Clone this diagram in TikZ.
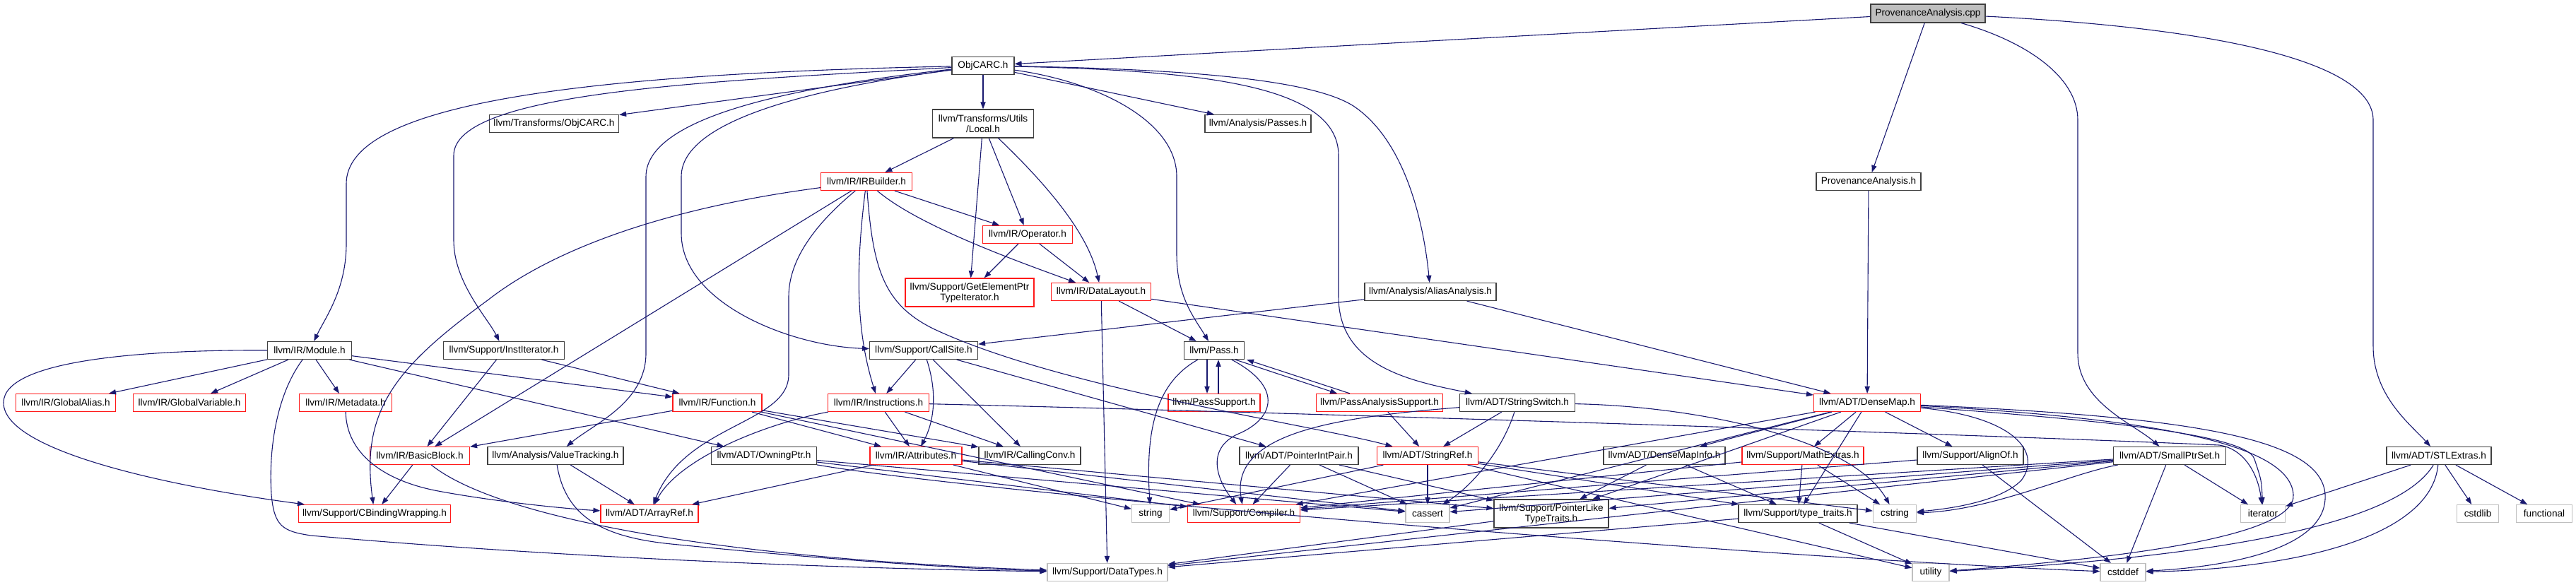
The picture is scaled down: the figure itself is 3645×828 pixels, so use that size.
\documentclass[tikz,border=0pt]{standalone}
\usepackage{fontspec}
\setmainfont{Liberation Sans}
\usetikzlibrary{arrows.meta}
\definecolor{edgec}{HTML}{191970}
\tikzset{
  nb/.style={draw=black!75, line width=0.6pt, fill=white, minimum height=12.5pt, inner sep=0pt, font=\fontsize{6.8}{7.5}\selectfont, align=center},
  nr/.style={nb, draw=red!90},
  ng/.style={nb, draw=black!25},
  nroot/.style={nb, fill=black!25, minimum height=13pt},
  wd/.style={minimum width=#1*0.5pt},
  tall/.style={minimum height=20pt},
  e/.style={draw=edgec, line width=0.55pt, -{Triangle[length=5pt,width=3.6pt]}},
}
\begin{document}
\begin{tikzpicture}[x=0.5pt,y=-0.5pt]
\useasboundingbox (0,0) rectangle (3645,828);
% row 0
\node[nroot,wd=162] (root) at (2728,19) {ProvenanceAnalysis.cpp};
% row 1
\node[nb,wd=88] (objcarc) at (1391,93) {ObjCARC.h};
% row 2
\node[nb,wd=183] (tobjcarc) at (784,175) {llvm/Transforms/ObjCARC.h};
\node[nb,wd=143,tall] (local) at (1391,175) {llvm/Transforms/Utils\\/Local.h};
\node[nb,wd=150] (passes) at (1780,175) {llvm/Analysis/Passes.h};
% row 3
\node[nr,wd=129] (irbuilder) at (1226,257) {llvm/IR/IRBuilder.h};
\node[nb,wd=148] (provh) at (2644,257) {ProvenanceAnalysis.h};
% row 4
\node[nr,wd=127] (operator) at (1454,332) {llvm/IR/Operator.h};
% row 5
\node[nr,wd=182,tall] (gep) at (1372,414) {llvm/Support/GetElementPtr\\TypeIterator.h};
\node[nr,wd=141] (datalayout) at (1558,413) {llvm/IR/DataLayout.h};
\node[nb,wd=186] (alias) at (2024,413) {llvm/Analysis/AliasAnalysis.h};
% row 6
\node[nb,wd=119] (module) at (438,496) {llvm/IR/Module.h};
\node[nb,wd=171] (institer) at (713,496) {llvm/Support/InstIterator.h};
\node[nb,wd=153] (callsite) at (1307,496) {llvm/Support/CallSite.h};
\node[nb,wd=85] (pass) at (1718,496) {llvm/Pass.h};
% row 7
\node[nr,wd=141] (galias) at (93,570) {llvm/IR/GlobalAlias.h};
\node[nr,wd=159] (gvar) at (268,570) {llvm/IR/GlobalVariable.h};
\node[nr,wd=131] (metadata) at (489,570) {llvm/IR/Metadata.h};
\node[nr,wd=126] (function) at (1015,570) {llvm/IR/Function.h};
\node[nr,wd=143] (instr) at (1243,570) {llvm/IR/Instructions.h};
\node[nr,wd=130] (passsupport) at (1718,570) {llvm/PassSupport.h};
\node[nr,wd=179] (passanalysis) at (1952,570) {llvm/PassAnalysisSupport.h};
\node[nb,wd=163] (stringswitch) at (2147,570) {llvm/ADT/StringSwitch.h};
\node[nr,wd=151] (densemap) at (2642,570) {llvm/ADT/DenseMap.h};
% row 8
\node[nr,wd=141] (basicblock) at (594,645) {llvm/IR/BasicBlock.h};
\node[nb,wd=192] (valuetracking) at (786,645) {llvm/Analysis/ValueTracking.h};
\node[nb,wd=149] (owningptr) at (1081,645) {llvm/ADT/OwningPtr.h};
\node[nr,wd=130] (attributes) at (1296,645) {llvm/IR/Attributes.h};
\node[nb,wd=144] (callingconv) at (1457,645) {llvm/IR/CallingConv.h};
\node[nb,wd=168] (pip) at (1838,645) {llvm/ADT/PointerIntPair.h};
\node[nr,wd=143] (stringref) at (2020,645) {llvm/ADT/StringRef.h};
\node[nb,wd=172] (dmi) at (2355,645) {llvm/ADT/DenseMapInfo.h};
\node[nr,wd=172] (mathextras) at (2551,645) {llvm/Support/MathExtras.h};
\node[nb,wd=150] (alignof) at (2788,645) {llvm/Support/AlignOf.h};
\node[nb,wd=159] (smallptrset) at (3070,645) {llvm/ADT/SmallPtrSet.h};
\node[nb,wd=148] (stlextras) at (3451,645) {llvm/ADT/STLExtras.h};
% row 9
\node[nr,wd=215] (cbind) at (530,727) {llvm/Support/CBindingWrapping.h};
\node[nr,wd=138] (arrayref) at (919,727) {llvm/ADT/ArrayRef.h};
\node[ng,wd=53] (string) at (1628,727) {string};
\node[nr,wd=159] (compiler) at (1760,727) {llvm/Support/Compiler.h};
\node[ng,wd=62] (cassert) at (2020,727) {cassert};
\node[nb,wd=162,tall] (pltt) at (2195,727) {llvm/Support/PointerLike\\TypeTraits.h};
\node[nb,wd=168] (typetraits) at (2544,727) {llvm/Support/type\_traits.h};
\node[ng,wd=61] (cstring) at (2681,727) {cstring};
\node[ng,wd=63] (iterator) at (3202,727) {iterator};
\node[ng,wd=59] (cstdlib) at (3506,727) {cstdlib};
\node[ng,wd=79] (functional) at (3600,727) {functional};
% row 10
\node[ng,wd=170] (datatypes) at (1567,810) {llvm/Support/DataTypes.h};
\node[ng,wd=52] (utility) at (2732,810) {utility};
\node[ng,wd=64] (cstddef) at (3004,810) {cstddef};

% ---- edges ----
\draw[e] (root) -- (objcarc);
\draw[e] (root) -- (provh);
\draw[e] (root) .. controls (2870,60) and (2940,110) .. (2940,170) -- (2940,500) .. controls (2940,570) and (3020,600) .. (smallptrset);
\draw[e] (root) .. controls (3150,40) and (3358,90) .. (3358,170) -- (3358,490) .. controls (3358,560) and (3410,600) .. (stlextras);
% ObjCARC.h
\draw[e] (objcarc) -- (tobjcarc);
\draw[e] (objcarc) -- (local);
\draw[e] (objcarc) -- (passes);
\draw[e] (objcarc) .. controls (800,105) and (490,150) .. (490,260) -- (490,345) .. controls (490,410) and (460,450) .. (module);
\draw[e] (objcarc) .. controls (1000,115) and (642,130) .. (642,220) -- (642,340) .. controls (642,400) and (690,450) .. (institer);
\draw[e] (objcarc) .. controls (1150,120) and (914,160) .. (914,250) -- (914,500) .. controls (914,570) and (840,600) .. (valuetracking);
\draw[e] (objcarc) .. controls (1150,125) and (964,170) .. (964,250) -- (964,330) .. controls (964,430) and (1120,490) .. (callsite);
\draw[e] (objcarc) .. controls (1550,115) and (1665,170) .. (1665,250) -- (1665,360) .. controls (1665,420) and (1690,450) .. (pass);
\draw[e] (objcarc) .. controls (1700,100) and (1894,120) .. (1894,220) -- (1894,420) .. controls (1894,520) and (2000,540) .. (stringswitch);
\draw[e] (objcarc) .. controls (1700,98) and (1860,115) .. (1915,150) .. controls (1990,200) and (2015,320) .. (alias);
% Local.h
\draw[e] (local) -- (irbuilder);
\draw[e] (local) -- (gep);
\draw[e] (local) -- (operator);
\draw[e] (local) .. controls (1480,260) and (1540,330) .. (datalayout);
% IRBuilder.h
\draw[e] (irbuilder) -- (operator);
\draw[e] (irbuilder) .. controls (1300,320) and (1440,370) .. (datalayout);
\draw[e] (irbuilder) -- (basicblock);
\draw[e] (irbuilder) .. controls (900,300) and (760,370) .. (690,425) .. controls (560,520) and (510,580) .. (cbind);
\draw[e] (irbuilder) .. controls (1150,320) and (1116,370) .. (1116,420) -- (1116,530) .. controls (1116,600) and (970,600) .. (arrayref);
\draw[e] (irbuilder) .. controls (1208,400) and (1215,480) .. (instr);
\draw[e] (irbuilder) .. controls (1235,380) and (1250,430) .. (1320,465) .. controls (1500,550) and (1850,600) .. (stringref);
% Operator.h
\draw[e] (operator) -- (gep);
\draw[e] (operator) -- (datalayout);
% DataLayout.h
\draw[e] (datalayout) -- (pass);
\draw[e] (datalayout) -- (datatypes);
\draw[e] (datalayout) -- (densemap);
% ProvenanceAnalysis.h, AliasAnalysis.h
\draw[e] (provh) -- (densemap);
\draw[e] (alias) -- (callsite);
\draw[e] (alias) -- (densemap);
% Module.h
\draw[e] (module) -- (galias);
\draw[e] (module) -- (gvar);
\draw[e] (module) -- (metadata);
\draw[e] (module) .. controls (200,495) and (5,510) .. (5,570) .. controls (5,640) and (250,690) .. (cbind);
\draw[e] (module) .. controls (390,560) and (380,640) .. (384,700) .. controls (388,745) and (400,752) .. (440,758) .. controls (800,790) and (1200,805) .. (datatypes);
\draw[e] (module) -- (function);
\draw[e] (module) -- (owningptr);
% InstIterator.h
\draw[e] (institer) -- (basicblock);
\draw[e] (institer) -- (function);
% CallSite.h
\draw[e] (callsite) -- (instr);
\draw[e] (callsite) .. controls (1328,560) and (1320,600) .. (attributes);
\draw[e] (callsite) -- (callingconv);
\draw[e] (callsite) -- (pip);
% Pass.h family
\draw[e] ([xshift=-5pt]pass.south) -- ([xshift=-5pt]passsupport.north);
\draw[e] ([xshift=3pt]passsupport.north) -- ([xshift=3pt]pass.south);
\draw[e] (pass) .. controls (1640,540) and (1620,600) .. (string);
\draw[e] (pass) .. controls (1820,550) and (1800,595) .. (1750,615) .. controls (1700,640) and (1730,690) .. (compiler);
\draw[e] ([xshift=15pt]pass.south) -- ([xshift=-30pt]passanalysis.north);
\draw[e] ([xshift=-21pt]passanalysis.north) -- ([xshift=23pt]pass.south);
\draw[e] (passanalysis) -- (stringref);
% StringSwitch.h
\draw[e] (stringswitch) -- (stringref);
\draw[e] (stringswitch) .. controls (2125,640) and (2080,690) .. (cassert);
\draw[e] (stringswitch) .. controls (2400,575) and (2620,620) .. (cstring);
\draw[e] (stringswitch) .. controls (1900,590) and (1740,610) .. (compiler);
% Instructions.h
\draw[e] (instr) -- (attributes);
\draw[e] (instr) -- (callingconv);
\draw[e] (instr) .. controls (1080,600) and (960,650) .. (arrayref);
\draw[e] (instr) .. controls (1800,583) and (2800,615) .. (3140,630) .. controls (3175,635) and (3195,670) .. (iterator);
% Function.h
\draw[e] (function) -- (basicblock);
\draw[e] (function) -- (attributes);
\draw[e] (function) -- (callingconv);
\draw[e] (function) -- (compiler);
% others
\draw[e] (metadata) .. controls (490,640) and (540,680) .. (620,695) .. controls (700,710) and (800,720) .. (arrayref);
\draw[e] (valuetracking) -- (arrayref);
\draw[e] (valuetracking) .. controls (800,730) and (850,760) .. (950,770) .. controls (1150,790) and (1350,805) .. (datatypes);
\draw[e] (basicblock) -- (cbind);
\draw[e] (basicblock) .. controls (700,730) and (1000,790) .. (datatypes);
\draw[e] (owningptr) -- (compiler);
\draw[e] (owningptr) -- (cassert);
\draw[e] (owningptr) .. controls (1400,700) and (2500,790) .. (cstddef);
\draw[e] (attributes) -- (arrayref);
\draw[e] (attributes) -- (string);
\draw[e] (attributes) -- (cassert);
\draw[e] (attributes) -- (pltt);
\draw[e] (pip) -- (compiler);
\draw[e] (pip) -- (cassert);
\draw[e] (pip) -- (pltt);
\draw[e] (stringref) -- (cassert);
\draw[e] (stringref) -- (string);
\draw[e] (stringref) -- (typetraits);
\draw[e] (stringref) -- (cstring);
\draw[e] (stringref) -- (utility);
% DenseMap.h
\draw[e] (densemap) -- (dmi);
\draw[e] (densemap) -- (mathextras);
\draw[e] (densemap) -- (alignof);
\draw[e] (densemap) -- (pltt);
\draw[e] (densemap) -- (typetraits);
\draw[e] (densemap) -- (compiler);
\draw[e] (densemap) -- (cassert);
\draw[e] (densemap) .. controls (2850,590) and (2890,640) .. (2860,680) .. controls (2830,710) and (2760,720) .. (cstring);
\draw[e] (densemap) .. controls (2900,590) and (3180,610) .. (3190,650) .. controls (3200,680) .. (iterator);
\draw[e] (densemap) .. controls (3000,590) and (3240,620) .. (3245,700) .. controls (3250,760) and (3000,790) .. (utility);
\draw[e] (densemap) .. controls (3100,590) and (3285,620) .. (3290,700) .. controls (3295,790) and (3100,805) .. (cstddef);
% DenseMapInfo, MathExtras, AlignOf
\draw[e] (dmi) -- (pltt);
\draw[e] (dmi) -- (typetraits);
\draw[e] (mathextras) -- (typetraits);
\draw[e] (mathextras) -- (cstring);
\draw[e] (mathextras) -- (compiler);
\draw[e] (alignof) -- (cstddef);
\draw[e] (alignof) -- (compiler);
% SmallPtrSet.h
\draw[e] (smallptrset) -- (iterator);
\draw[e] (smallptrset) -- (cstddef);
\draw[e] (smallptrset) -- (compiler);
\draw[e] (smallptrset) -- (cassert);
\draw[e] (smallptrset) -- (pltt);
\draw[e] (smallptrset) .. controls (2930,670) and (2820,722) .. (cstring);
\draw[e] (smallptrset) -- (datatypes);
% STLExtras.h
\draw[e] (stlextras) -- (iterator);
\draw[e] (stlextras) -- (cstdlib);
\draw[e] (stlextras) -- (functional);
\draw[e] (stlextras) .. controls (3400,730) and (3200,785) .. (utility);
\draw[e] (stlextras) .. controls (3440,760) and (3250,805) .. (cstddef);
% leaves-ish
\draw[e] (typetraits) -- (datatypes);
\draw[e] (typetraits) -- (utility);
\draw[e] (typetraits) -- (cstddef);
\draw[e] (pltt) -- (datatypes);
\end{tikzpicture}
\end{document}
